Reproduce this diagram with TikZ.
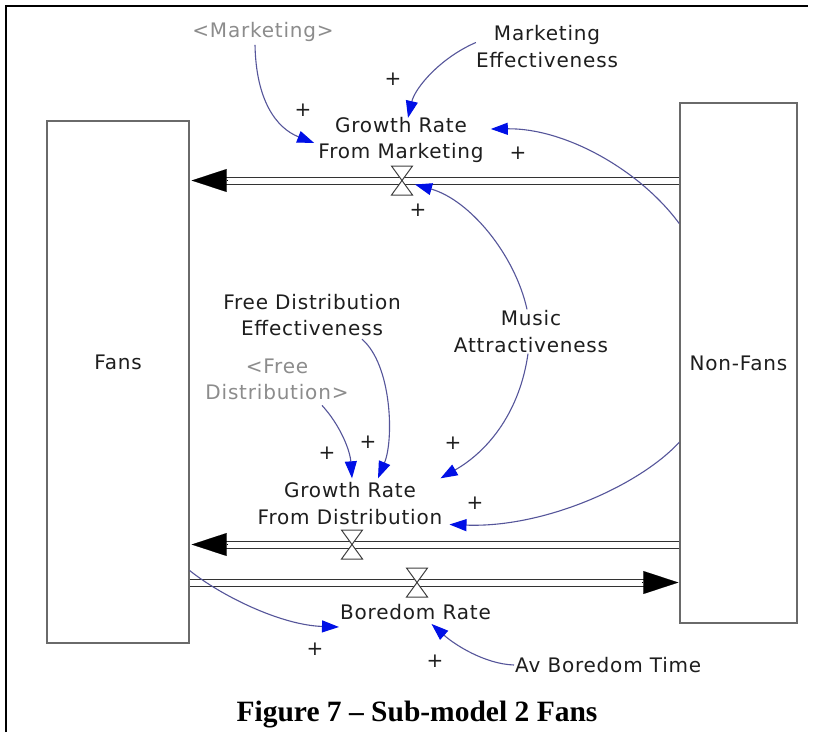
\documentclass[tikz,border=0pt]{standalone}
\usepackage{fontspec}
\usetikzlibrary{arrows.meta,calc}
\newfontfamily\vsans[LetterSpace=4]{DejaVu Sans}
\newfontfamily\capserif{Liberation Serif}
\definecolor{linkcol}{HTML}{55559A}
\definecolor{headcol}{HTML}{0010E6}
\definecolor{boxcol}{HTML}{6A6A6A}
\definecolor{shadowtxt}{HTML}{8C8C8C}
\definecolor{txt}{HTML}{1E1E1E}
\tikzset{
  lbl/.style={font=\vsans\fontsize{20}{26.5}\selectfont, text=txt, align=center, inner sep=1pt},
  shadow/.style={lbl, text=shadowtxt},
  stock/.style={draw=boxcol, line width=1.4pt, fill=white, inner sep=0pt},
  stocklbl/.style={font=\vsans\fontsize{20}{24}\selectfont, text=txt, inner sep=0pt},
  pipe/.style={draw=black!80, line width=1pt, double=white, double distance=6pt},
  flowhead/.style={-{Triangle[length=35pt,width=23pt]}, line width=0.1pt, black},
  valve/.style={draw=black!75, line width=1pt, fill=white},
  link/.style={draw=linkcol, line width=1.1pt, -{Triangle[length=17pt,width=12pt,color=headcol]}},
  sign/.style={font=\vsans\fontsize{20}{20}\selectfont, text=txt, inner sep=0pt},
}
\begin{document}
\begin{tikzpicture}[x=1pt,y=-1pt]
\useasboundingbox (0,0) rectangle (814,732);
\fill[white] (0,0) rectangle (814,732);
% page frame
\draw[line width=2.2pt] (6,732) -- (6,6) -- (808,6);

% stocks
\node[stock, minimum width=142pt, minimum height=522pt] (fans) at (118,382) {};
\node[stocklbl] (fanslbl) at (118,362) {Fans};
\node[stock, minimum width=117pt, minimum height=520pt] (nonfans) at (738.5,363) {};
\node[stocklbl] (nonfanslbl) at (nonfans.center) {Non-Fans};

% valve positions on the pipes
\coordinate (v1) at (402,180.5);
\coordinate (v2) at (352,544.5);
\coordinate (v3) at (417,582.5);

% pipes
\draw[pipe] (nonfans.west |- v1) -- ($(fans.east |- v1)+(30,0)$);
\draw[flowhead] ($(fans.east |- v1)+(37,0)$) -- ($(fans.east |- v1)+(2,0)$);
\draw[pipe] (nonfans.west |- v2) -- ($(fans.east |- v2)+(30,0)$);
\draw[flowhead] ($(fans.east |- v2)+(37,0)$) -- ($(fans.east |- v2)+(2,0)$);
\draw[pipe] (fans.east |- v3) -- ($(nonfans.west |- v3)+(-30,0)$);
\draw[flowhead] ($(nonfans.west |- v3)+(-37,0)$) -- ($(nonfans.west |- v3)+(-1,0)$);

% valves (hourglass)
\foreach \v in {v1,v2,v3}{
  \draw[valve] ($(\v)+(-10.5,-14.5)$) -- ($(\v)+(10.5,-14.5)$) -- ($(\v)+(-10.5,14.5)$) -- ($(\v)+(10.5,14.5)$) -- cycle;
}

% variables
\node[shadow] (mkt) at (263,32) {<Marketing>};
\node[lbl] (mkteff) at (547,46.5) {Marketing\\Effectiveness};
\node[lbl] (gr1) at (401,140) {Growth Rate\\From Marketing};
\node[lbl] (freeeff) at (312,315) {Free Distribution\\Effectiveness};
\node[shadow] (freedist) at (277,379.5) {<Free\\Distribution>};
\node[lbl] (music) at (531,331.5) {Music\\Attractiveness};
\node[lbl] (gr2) at (350,503.5) {Growth Rate\\From Distribution};
\node[lbl] (boredom) at (415.5,612) {Boredom Rate};
\node[lbl, anchor=west] (avbt) at (514,665) {Av Boredom Time};

% anchor points of the links on the stocks
\coordinate (nfA) at ($(nonfans.north west)!0.2327!(nonfans.south west)$);
\coordinate (nfB) at ($(nonfans.north west)!0.6519!(nonfans.south west)$);
\coordinate (fansA) at ($(fans.north east)!0.8602!(fans.south east)$);

% causal links
\draw[link] ($(mkt.south)+(-8,2)$) .. controls (256,100) and (276,128) .. ($(gr1.west)+(-3,3)$);
\draw[link] ($(mkteff.west)+(1,-4)$) .. controls (440,58) and (415,88) .. ($(gr1.north)+(7,2)$);
\draw[link] (nfA) .. controls (640,170) and (565,128) .. ($(gr1.east)+(6,-11)$);
\draw[link] ($(music.north)+(-4,0)$) .. controls (515,255) and (470,200) .. ($(v1)+(13,4)$);
\draw[link] ($(music.south)+(-3,0)$) .. controls (520,410) and (490,450) .. ($(gr2.north east)+(-3,-3)$);
\draw[link] ($(freeeff.south)+(50,2)$) .. controls (392,365) and (394,440) .. ($(gr2.north)+(28,-3)$);
\draw[link] ($(freedist.south)+(45,4)$) .. controls (340,425) and (350,450) .. ($(gr2.north)+(2,-3)$);
\draw[link] (nfB) .. controls (640,485) and (545,528) .. ($(gr2.east)+(6,21)$);
\draw[link] (fansA) .. controls (220,595) and (280,625) .. ($(boredom.west)+(0,15)$);
\draw[link] (avbt.west) .. controls (485,664) and (455,645) .. ($(boredom.south)+(16,3)$);

% polarity signs
\node[sign] (s1) at (303,110) {+};
\node[sign] (s2) at (393,79) {+};
\node[sign] (s3) at (518,153) {+};
\node[sign] (s4) at (418,210) {+};
\node[sign] (s5) at (453,443) {+};
\node[sign] (s6) at (368,442) {+};
\node[sign] (s7) at (327,453) {+};
\node[sign] (s8) at (475,503) {+};
\node[sign] (s9) at (315,649) {+};
\node[sign] (s10) at (435,661) {+};

% caption
\node[font=\capserif\bfseries\fontsize{29.5}{31}\selectfont, anchor=base, inner sep=0pt] (cap) at (417,721) {Figure 7 – Sub-model 2 Fans};
\end{tikzpicture}
\end{document}
